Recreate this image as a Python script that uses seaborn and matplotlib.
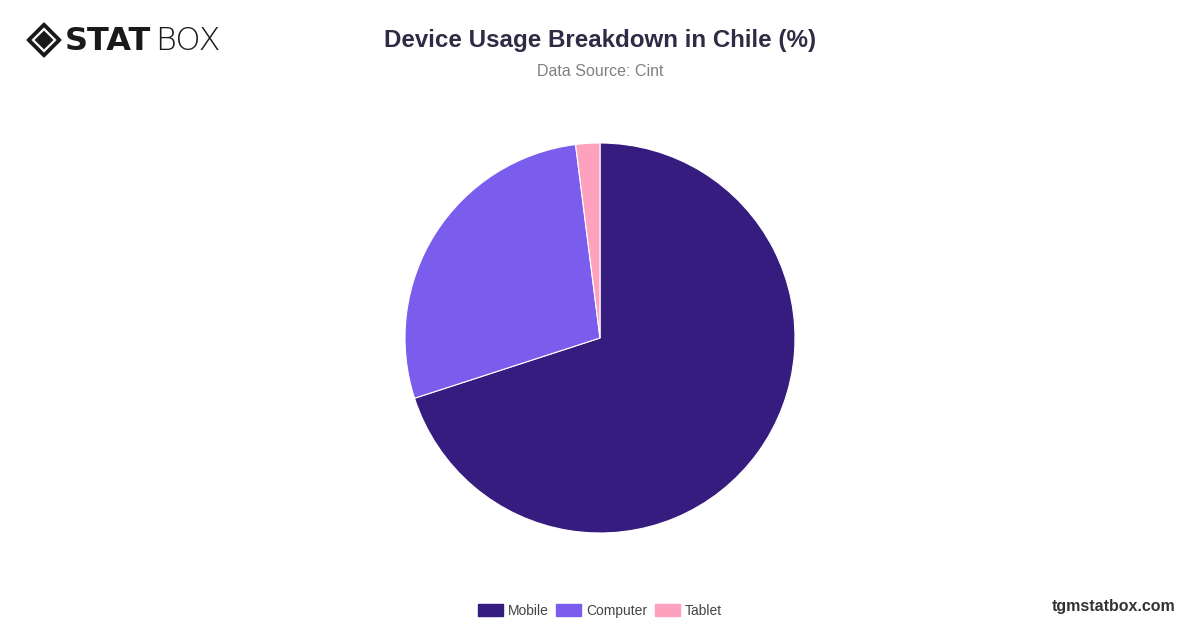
import matplotlib
matplotlib.use("Agg")
import matplotlib.pyplot as plt
import seaborn as sns
from matplotlib.patches import Patch, Polygon

devices = ["Mobile", "Computer", "Tablet"]
shares = [70, 28, 2]
colors = ["#371c80", "#7b5ded", "#fda1bf"]

title = "Device Usage Breakdown in Chile (%)"
subtitle = "Data Source: Cint"

sns.set_theme(style="white")
plt.rcParams["font.family"] = ["Liberation Sans", "DejaVu Sans"]

W, H = 1200, 628
fig = plt.figure(figsize=(W / 100, H / 100), dpi=100)

# pie: centre (600, 338), radius ~195 px
cx, cy, r = 600, 338, 195
ax = fig.add_axes([(cx - r) / W, (H - cy - r) / H, 2 * r / W, 2 * r / H])
ax.pie(shares, colors=colors, startangle=90, counterclock=False,
       wedgeprops=dict(edgecolor="white", linewidth=0.8))
ax.set_xlim(-1, 1)
ax.set_ylim(-1, 1)
ax.set_aspect("equal")
ax.axis("off")

fig.text(0.5, 1 - 40 / H, title, ha="center", va="center",
         fontsize=17.4, fontweight="bold", color="#2f2b45")
fig.text(0.5, 1 - 71 / H, subtitle, ha="center", va="center",
         fontsize=11.5, color="#808080")

# legend
handles = [Patch(facecolor=c, edgecolor=c, label=d) for d, c in zip(devices, colors)]
fig.legend(handles=handles, loc="center", bbox_to_anchor=(0.5, 1 - 611 / H),
           ncol=3, frameon=False, fontsize=10, handlelength=1.8, handleheight=1.0,
           columnspacing=0.5, handletextpad=0.4, labelcolor="#444444")

# watermark
fig.text(1175 / W, 1 - 606 / H, "tgmstatbox.com", ha="right", va="center",
         fontsize=11.5, fontweight="bold", color="#333333")

# logo
lax = fig.add_axes([0, 1 - 80 / H, 300 / W, 80 / H])
lax.set_xlim(0, 300)
lax.set_ylim(80, 0)
lax.axis("off")
lx, ly, s = 44, 40, 17
lax.add_patch(Polygon([(lx - s, ly), (lx, ly - s), (lx + s, ly), (lx, ly + s)],
                      closed=True, color="#1a1a1a"))
s2 = 11
lax.add_patch(Polygon([(lx - s2, ly), (lx, ly - s2), (lx + s2, ly), (lx, ly + s2)],
                      closed=True, facecolor="#1a1a1a", edgecolor="white", linewidth=1.6))
lax.text(65, 41, "STAT", ha="left", va="center", fontsize=23, fontweight="black",
         color="#1a1a1a", family="DejaVu Sans")
lax.text(155, 41, "BOX", ha="left", va="center", fontsize=23, fontweight="light",
         color="#1a1a1a", family="DejaVu Sans")

fig.savefig("out.png", dpi=100, facecolor="white")
